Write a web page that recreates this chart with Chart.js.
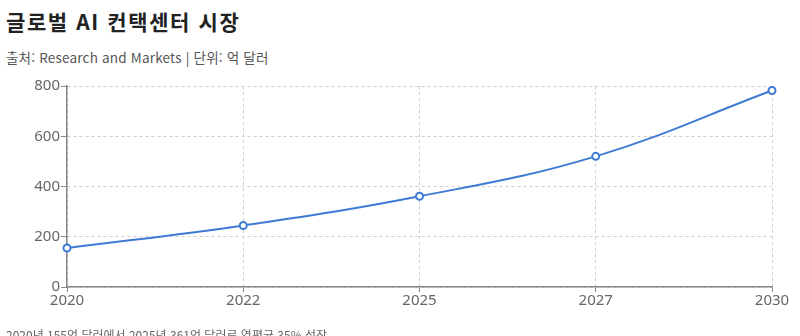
<!DOCTYPE html>
<html lang="ko">
<head>
<meta charset="utf-8">
<script src="https://cdn.jsdelivr.net/npm/chart.js@4/dist/chart.umd.min.js"></script>
<style>
  html, body { margin: 0; padding: 0; background: #fff; width: 800px; height: 336px; overflow: hidden; }
  body { position: relative; font-family: "Noto Sans CJK KR", "Noto Sans", sans-serif; }
  #title { position: absolute; left: 6px; top: 6px; font-size: 21px; font-weight: 700; color: #222; letter-spacing: 1.6px; }
  #subtitle { position: absolute; left: 6px; top: 47px; font-size: 13.5px; color: #555; letter-spacing: 0.2px; }
  #note { position: absolute; left: 6px; top: 326px; font-size: 12px; color: #666; white-space: nowrap; }
  #wrap { position: absolute; left: 0; top: 0; width: 800px; height: 336px; }
</style>
</head>
<body>
<div id="title">글로벌 AI 컨택센터 시장</div>
<div id="subtitle">출처: Research and Markets | 단위: 억 달러</div>
<div id="wrap"><canvas id="c" width="800" height="336"></canvas></div>
<div id="note">2020년 155억 달러에서 2025년 361억 달러로 연평균 35% 성장</div>
<script>
const categories = ["2020", "2022", "2025", "2027", "2030"];
const marketValues = [155, 245, 361, 520, 782];
const yTickValues = [0, 200, 400, 600, 800];

const ctx = document.getElementById('c');
new Chart(ctx, {
  type: 'line',
  data: {
    labels: categories,
    datasets: [{
      label: '시장 규모',
      data: marketValues,
      borderColor: '#3f7bd4',
      backgroundColor: '#ffffff',
      borderWidth: 2,
      tension: 0.4,
      pointRadius: 3.5,
      pointBorderWidth: 2,
      pointBackgroundColor: '#ffffff',
      pointBorderColor: '#3f7bd4',
      fill: false
    }]
  },
  options: {
    responsive: false,
    animation: false,
    devicePixelRatio: 1,
    layout: { padding: { top: 86, right: 28, bottom: 24, left: 0 } },
    plugins: { legend: { display: false }, tooltip: { enabled: false }, title: { display: false } },
    scales: {
      x: {
        type: 'category',
        offset: false,
        afterFit: (s) => { s.height = 25; },
        grid: { color: '#cfcfcf', tickColor: '#888', tickLength: 5, drawTicks: true, tickBorderDash: [] },
        border: { display: true, color: '#888', width: 1.5, dash: [3, 3] },
        ticks: { color: '#666', font: { family: '"Noto Sans", sans-serif', size: 15 }, padding: 0, maxRotation: 0 }
      },
      y: {
        min: 0, max: 800,
        afterBuildTicks: (s) => { s.ticks = yTickValues.map(v => ({ value: v })); },
        afterFit: (s) => { s.width = 67; },
        grid: { color: '#cfcfcf', tickColor: '#888', tickLength: 6, tickBorderDash: [] },
        border: { display: true, color: '#888', width: 1.5, dash: [3, 3] },
        ticks: { color: '#666', font: { family: '"Noto Sans", sans-serif', size: 15 }, padding: 1 }
      }
    }
  }
});
</script>
</body>
</html>
